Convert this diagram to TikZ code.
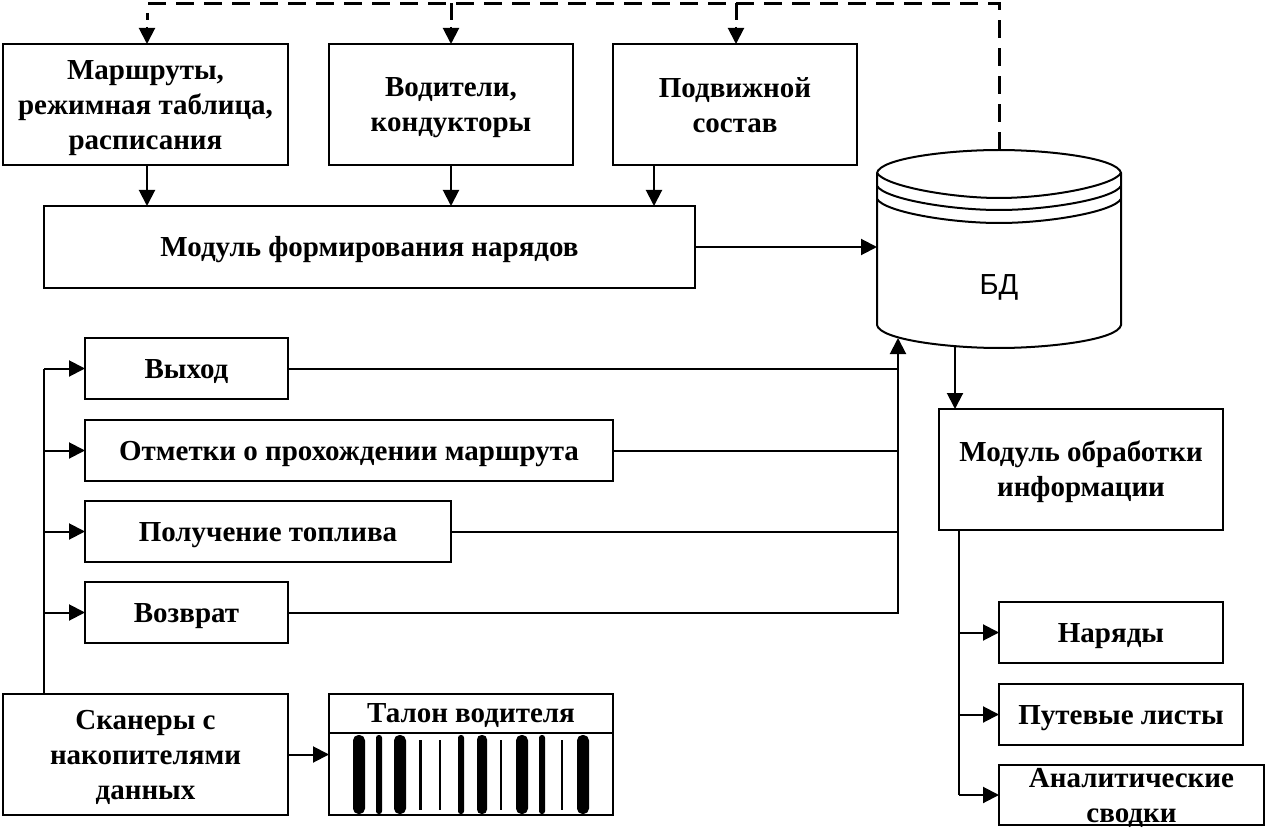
\documentclass[tikz,border=0pt]{standalone}
\usepackage{fontspec}
\setmainfont{Liberation Serif}
\newfontfamily\labelsans{Liberation Sans}
\usetikzlibrary{arrows.meta}
% fixed line struts keep single-line block text on one baseline
\newcommand{\topstrut}{\rule{0pt}{28pt}}
\newcommand{\botstrut}{\rule[-8pt]{0pt}{8pt}}
\tikzset{
  x=1pt,y=-1pt,
  blk/.style={draw=black,line width=2pt,fill=white,inner sep=0pt,outer sep=0pt,align=center,
    font=\fontsize{29}{35}\selectfont\bfseries,
    execute at begin node=\topstrut, execute at end node=\botstrut},
  % several lines of text set over an empty block
  blktext/.style={inner sep=0pt,outer sep=0pt,align=center,
    font=\fontsize{29}{35}\selectfont\bfseries,yshift=-#1},
  link/.style={line width=2pt,-{Triangle[length=16pt,width=16pt]}},
  plain/.style={line width=2pt},
  feedback/.style={line width=3pt,dash pattern=on 18pt off 10pt},
}
\begin{document}
\begin{tikzpicture}
\useasboundingbox (0,0) rectangle (1267,829);
\fill[white] (0,0) rectangle (1267,829);

% upper row of input blocks
\node[blk,minimum width=285pt,minimum height=121pt] (routes) at (145.5,104.5) {};
\node[blktext=4pt] (routestext) at (routes.center) {Маршруты,\\режимная таблица,\\расписания};
\node[blk,minimum width=244pt,minimum height=121pt] (drivers) at (451,104.5) {};
\node[blktext=3.5pt] (driverstext) at (drivers.center) {Водители,\\кондукторы};
\node[blk,minimum width=244pt,minimum height=121pt] (stock) at (735,104.5) {};
\node[blktext=0.5pt] (stocktext) at (stock.center) {Подвижной\\состав};
\node[blk,minimum width=651pt,minimum height=82pt] (orders) at (369.5,247) {Модуль формирования нарядов};

% database cylinder
\node[minimum width=244pt,minimum height=197pt,inner sep=0pt,outer sep=0pt] (db) at (999,248.5) {};
\begin{scope}[line width=2pt]
  \draw (877,173) .. controls (880,158) and (950,150) .. (999,150)
        .. controls (1048,150) and (1118,158) .. (1121,173)
        -- (1121,325) .. controls (1118,340) and (1048,348) .. (999,348)
        .. controls (950,348) and (880,340) .. (877,325) -- cycle;
  \draw (877,173) .. controls (885,186) and (950,198) .. (999,198)
        .. controls (1048,198) and (1113,186) .. (1121,173);
  \draw (877,186) .. controls (885,199) and (950,210) .. (999,210)
        .. controls (1048,210) and (1113,199) .. (1121,186);
  \draw (877,199) .. controls (885,212) and (950,223) .. (999,223)
        .. controls (1048,223) and (1113,212) .. (1121,199);
\end{scope}
\node[font=\labelsans\fontsize{29}{32}\selectfont,inner sep=0pt] (dblabel) at (999,287) {БД};
\coordinate (dbin) at (898,338);
\coordinate (dbout) at (955,347);

% scanned event blocks
\node[blk,minimum width=203pt,minimum height=61pt] (exit) at (186.5,368.5) {Выход};
\node[blk,minimum width=528pt,minimum height=61pt] (marks) at (349,450.5) {Отметки о прохождении маршрута};
\node[blk,minimum width=366pt,minimum height=61pt] (fuel) at (268,531.5) {Получение топлива};
\node[blk,minimum width=203pt,minimum height=61pt] (back) at (186.5,612.5) {Возврат};
\node[blk,minimum width=285pt,minimum height=121pt] (scan) at (145.5,754.5) {};
\node[blktext=3pt] (scantext) at (scan.center) {Сканеры с\\накопителями\\данных};

% driver ticket with its barcode
\node[draw=black,line width=2pt,minimum width=284pt,minimum height=121pt,inner sep=0pt,outer sep=0pt] (ticket) at (471,754.5) {};
\node[font=\fontsize{29}{30}\selectfont\bfseries,inner sep=0pt] (tickettitle) at (471,716) {Талон водителя};
\draw[line width=2pt] (329,733) -- (613,733);
\foreach \bx/\bw in {359/12,400/12,482/10,522/12,583/12,379/6,461/6,542/6}
  \fill[rounded corners=\bw*0.45pt] (\bx-\bw/2,735) rectangle (\bx+\bw/2,814);
\foreach \bx/\bw in {420/3,440/2,501/2,562/1.5}
  \draw[line width=\bw pt] (\bx,740) -- (\bx,810);

% output blocks
\node[blk,minimum width=284pt,minimum height=121pt] (proc) at (1081,469.5) {};
\node[blktext=2.5pt] (proctext) at (proc.center) {Модуль обработки\\информации};
\node[blk,minimum width=224pt,minimum height=61pt] (sheets) at (1111,632.5) {Наряды};
\node[blk,minimum width=244pt,minimum height=61pt] (waybills) at (1121,714.5) {Путевые листы};
\node[blk,minimum width=265pt,minimum height=60pt] (reports) at (1131.5,795) {};
\node[blktext=2.5pt] (reportstext) at (reports.center) {Аналитические\\сводки};

% feedback from the database to the input blocks
\coordinate (fbcorner) at (999,3.5);
\coordinate (fb1) at (147,44);
\coordinate (fb3) at (736,44);
\draw[feedback] (db.north) -- (fbcorner) -- (fbcorner -| fb1) -- (147,20);
\draw[feedback] (fbcorner -| drivers.north) -- (451,20);
\draw[feedback] (fbcorner -| fb3) -- (736,20);
\draw[link] (147,27) -- (fb1);
\draw[link] (drivers.north |- 0,27) -- (drivers.north);
\draw[link] (736,27) -- (fb3);

% input blocks into the order module
\coordinate (r1) at (147,165);
\coordinate (r2) at (654,165);
\draw[link] (r1) -- (r1 |- orders.north);
\draw[link] (drivers.south) -- (drivers.south |- orders.north);
\draw[link] (r2) -- (r2 |- orders.north);
\draw[link] (orders.east) -- (orders.east -| db.west);

% events into the database
\draw[plain] (exit.east) -- (exit.east -| dbin);
\draw[plain] (marks.east) -- (marks.east -| dbin);
\draw[plain] (fuel.east) -- (fuel.east -| dbin);
\draw[link] (back.east) -- (back.east -| dbin) -- (dbin);

% scanners feeding the event blocks
\coordinate (s1) at (44,694);
\draw[plain] (s1) -- (s1 |- exit.west);
\draw[link] (s1 |- exit.west) -- (exit.west);
\draw[link] (s1 |- marks.west) -- (marks.west);
\draw[link] (s1 |- fuel.west) -- (fuel.west);
\draw[link] (s1 |- back.west) -- (back.west);
\draw[link] (scan.east) -- (ticket.west);

% database to processing and reports
\draw[link] (dbout) -- (dbout |- proc.north);
\coordinate (p1) at (959,530);
\draw[plain] (p1) -- (p1 |- reports.west);
\draw[link] (p1 |- sheets.west) -- (sheets.west);
\draw[link] (p1 |- waybills.west) -- (waybills.west);
\draw[link] (p1 |- reports.west) -- (reports.west);
\end{tikzpicture}
\end{document}
